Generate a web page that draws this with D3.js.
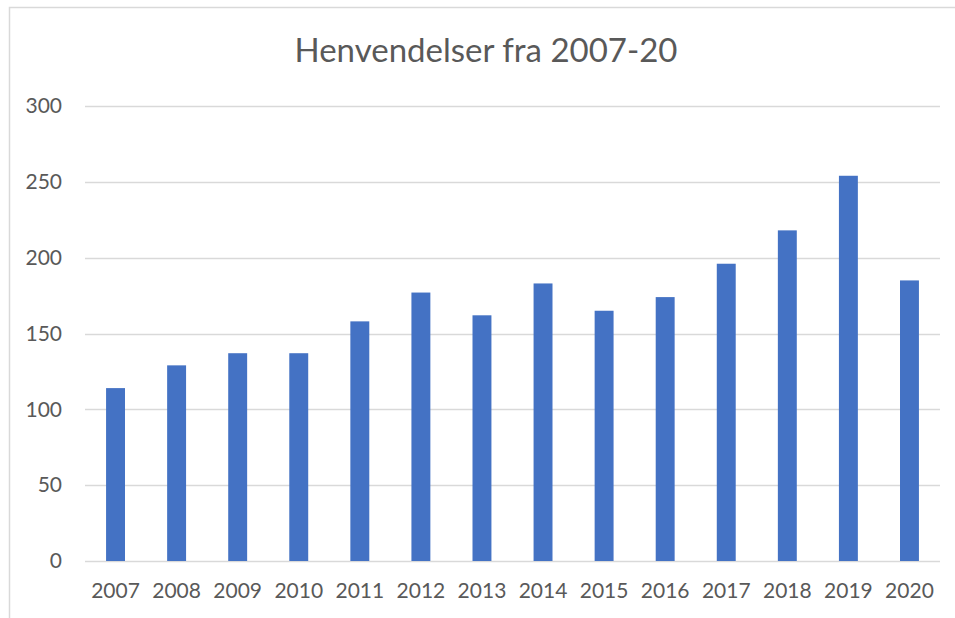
<!DOCTYPE html>
<html><head><meta charset="utf-8">
<script src="https://cdn.jsdelivr.net/npm/d3@7"></script>
<style>body{margin:0;background:#fff;} svg{display:block;}</style>
</head><body>
<script>
const years = ["2007","2008","2009","2010","2011","2012","2013","2014","2015","2016","2017","2018","2019","2020"];
const values = [114,129,137,137,158,177,162,183,165,174,196,218,254,185];
const yTicks = [0,50,100,150,200,250,300];
const title = "Henvendelser fra 2007-20";

(function(){
const W = 955, H = 618;
const svg = d3.select("body").append("svg").attr("width", W).attr("height", H);
svg.append("rect").attr("width", W).attr("height", H).attr("fill", "#fff");
svg.append("path").attr("d", `M9.5,${H} V7.5 H${W}`).attr("fill","none").attr("stroke","#d9d9d9").attr("stroke-width",1.5);

const font = "Lato, 'Open Sans', sans-serif";
const mLeft = 85, mRight = 940, mTop = 106, mBottom = 561;
const x = d3.scaleBand().domain(years).range([mLeft, mRight]).paddingInner(0.69).paddingOuter(0.345);
const y = d3.scaleLinear().domain([0, 300]).range([mBottom, mTop]);

svg.append("g").selectAll("line").data(yTicks).join("line")
  .attr("x1", mLeft).attr("x2", mRight)
  .attr("y1", d => Math.round(y(d)) + 0.5).attr("y2", d => Math.round(y(d)) + 0.5)
  .attr("stroke", "#d9d9d9").attr("stroke-width", 1.5);

svg.append("g").selectAll("rect").data(values).join("rect")
  .attr("x", (d, i) => x(years[i])).attr("width", x.bandwidth())
  .attr("y", d => y(d)).attr("height", d => y(0) - y(d))
  .attr("fill", "#4472C4");

const yAxis = d3.axisLeft(y).tickValues(yTicks).tickSize(0).tickPadding(0);
const ya = svg.append("g").attr("transform", `translate(62,0)`).call(yAxis);
ya.select(".domain").remove();
ya.selectAll("text").attr("font-family", font).attr("font-size", 21).attr("fill", "#595959");

const xAxis = d3.axisBottom(x).tickSize(0).tickPadding(0);
const xa = svg.append("g").attr("transform", `translate(0,${mBottom + 22})`).call(xAxis);
xa.select(".domain").remove();
xa.selectAll("text").attr("font-family", font).attr("font-size", 21).attr("fill", "#595959");

svg.append("text").attr("x", 486).attr("y", 62).attr("text-anchor", "middle")
  .attr("font-family", font).attr("font-size", 33).attr("fill", "#595959").text(title);
})();
</script>
</body></html>
